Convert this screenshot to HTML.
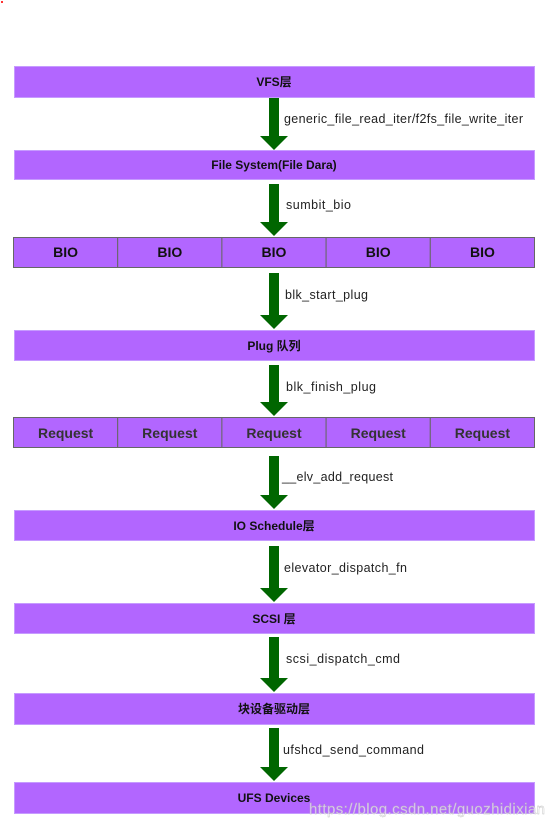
<!DOCTYPE html>
<html><head><meta charset="utf-8"><style>
html,body{margin:0;padding:0;background:#fff;}
svg{display:block;}
text{font-family:"Liberation Sans","Noto Sans CJK SC",sans-serif;}
</style></head><body>
<svg width="553" height="828" viewBox="0 0 553 828" xmlns="http://www.w3.org/2000/svg">
<rect x="1" y="1" width="2" height="2" fill="#f33"/>
<g fill="#b266ff" stroke="#c69bff" stroke-width="1">
<rect x="14.5" y="66.5" width="520" height="31"/>
<rect x="14.5" y="150.5" width="520" height="29"/>
<rect x="14.5" y="330.5" width="520" height="30"/>
<rect x="14.5" y="510.5" width="520" height="30"/>
<rect x="14.5" y="603.5" width="520" height="30"/>
<rect x="14.5" y="693.5" width="520" height="31"/>
<rect x="14.5" y="782.5" width="520" height="31"/>
</g>
<g fill="#b266ff" stroke="#666" stroke-width="1">
<rect x="13.5" y="237.5" width="104.2" height="30"/><rect x="117.7" y="237.5" width="104.2" height="30"/><rect x="221.9" y="237.5" width="104.2" height="30"/><rect x="326.1" y="237.5" width="104.2" height="30"/><rect x="430.3" y="237.5" width="104.2" height="30"/>
<rect x="13.5" y="417.5" width="104.2" height="30"/><rect x="117.7" y="417.5" width="104.2" height="30"/><rect x="221.9" y="417.5" width="104.2" height="30"/><rect x="326.1" y="417.5" width="104.2" height="30"/><rect x="430.3" y="417.5" width="104.2" height="30"/>
</g>
<g fill="#006600">
<polygon points="269,98 279,98 279,136 288,136 274,150 260,136 269,136"/>
<polygon points="269,184 279,184 279,222 288,222 274,236 260,222 269,222"/>
<polygon points="269,273 279,273 279,315 288,315 274,329 260,315 269,315"/>
<polygon points="269,365 279,365 279,402 288,402 274,416 260,402 269,402"/>
<polygon points="269,456 279,456 279,495 288,495 274,509 260,495 269,495"/>
<polygon points="269,546 279,546 279,588 288,588 274,602 260,588 269,588"/>
<polygon points="269,637 279,637 279,678 288,678 274,692 260,678 269,678"/>
<polygon points="269,728 279,728 279,767 288,767 274,781 260,767 269,767"/>
</g>
<g font-size="12" font-weight="bold" fill="#111" text-anchor="middle">
<text x="274" y="86">VFS层</text>
<text x="274" y="169">File System(File Dara)</text>
<text x="274" y="350">Plug 队列</text>
<text x="274" y="530">IO Schedule层</text>
<text x="274" y="623">SCSI 层</text>
<text x="274" y="713">块设备驱动层</text>
<text x="274" y="802">UFS Devices</text>
</g>
<g font-size="14" font-weight="bold" fill="#111" text-anchor="middle">
<text x="65.6" y="257">BIO</text><text x="169.8" y="257">BIO</text><text x="274" y="257">BIO</text><text x="378.2" y="257">BIO</text><text x="482.4" y="257">BIO</text>
</g>
<g font-size="14" font-weight="bold" fill="#333" text-anchor="middle">
<text x="65.6" y="438">Request</text><text x="169.8" y="438">Request</text><text x="274" y="438">Request</text><text x="378.2" y="438">Request</text><text x="482.4" y="438">Request</text>
</g>
<g font-size="12.5" fill="#222" lengthAdjust="spacing">
<text x="284" y="123" textLength="239">generic_file_read_iter/f2fs_file_write_iter</text>
<text x="286" y="209" textLength="65">sumbit_bio</text>
<text x="285" y="299" textLength="83">blk_start_plug</text>
<text x="286" y="391" textLength="90">blk_finish_plug</text>
<text x="282" y="481" textLength="111">__elv_add_request</text>
<text x="284" y="572" textLength="123">elevator_dispatch_fn</text>
<text x="286" y="663" textLength="114">scsi_dispatch_cmd</text>
<text x="283" y="754" textLength="141">ufshcd_send_command</text>
</g>
<text x="309" y="814" font-size="15" fill="#fff" stroke="#bbb" stroke-width="0.4" fill-opacity="0.6" textLength="236">https://blog.csdn.net/guozhidixian</text>
</svg>
</body></html>
